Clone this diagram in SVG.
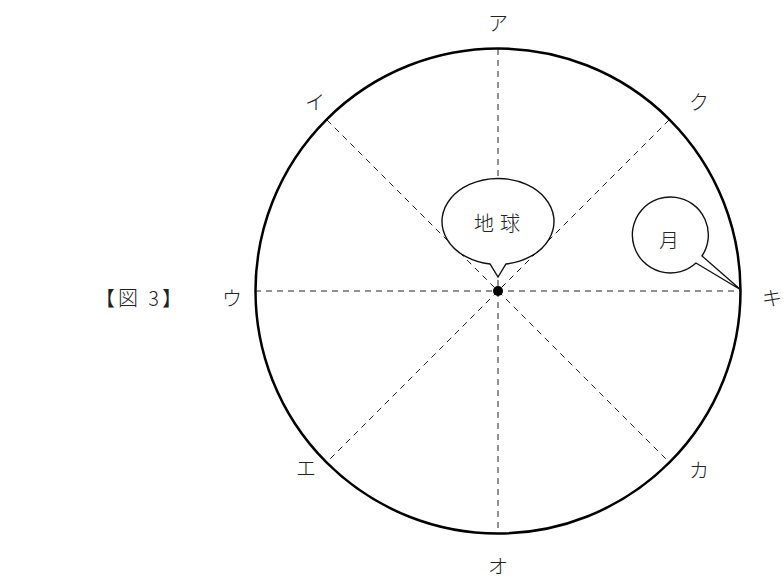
<svg xmlns="http://www.w3.org/2000/svg" width="784" height="581" viewBox="0 0 784 581">
<style>
text{font-family:"Noto Sans CJK JP","Noto Sans",sans-serif;font-size:20px;fill:#222;text-anchor:middle;dominant-baseline:central;font-weight:300}
.dash{stroke:#222;stroke-width:1;stroke-dasharray:6 5;fill:none}
.bub{fill:#fff;stroke:#111;stroke-width:1.4}
</style>
<rect width="784" height="581" fill="#fff"/>
<text x="140" y="297" letter-spacing="3">【図 3】</text>
<g id="connectors">
<line class="dash" x1="498" y1="49" x2="498" y2="533"/>
<line class="dash" x1="255" y1="291" x2="741" y2="291"/>
<line class="dash" x1="327" y1="120" x2="669" y2="462"/>
<line class="dash" x1="669" y1="120" x2="327" y2="462"/>
</g>
<g id="orbit"><circle cx="498" cy="291" r="242.5" fill="none" stroke="#000" stroke-width="2.5"/></g>
<g id="earth">
<path class="bub" d="M490,264 A56,43 0 1 1 506,264 L498,277 Z"/>
<text x="500" y="222" font-size="22" letter-spacing="6">地球</text>
<circle cx="498" cy="291" r="5" fill="#000"/>
</g>
<g id="moon">
<path class="bub" d="M702,256 A38,38 0 1 0 696,263 L741,290 Z"/>
<text x="669" y="239">月</text>
</g>
<g id="labels">
<text x="498" y="22">ア</text>
<text x="315" y="101">イ</text>
<text x="699" y="101">ク</text>
<text x="232" y="297">ウ</text>
<text x="772" y="297">キ</text>
<text x="306" y="467">エ</text>
<text x="699" y="469">カ</text>
<text x="498" y="565">オ</text>
</g>
</svg>
